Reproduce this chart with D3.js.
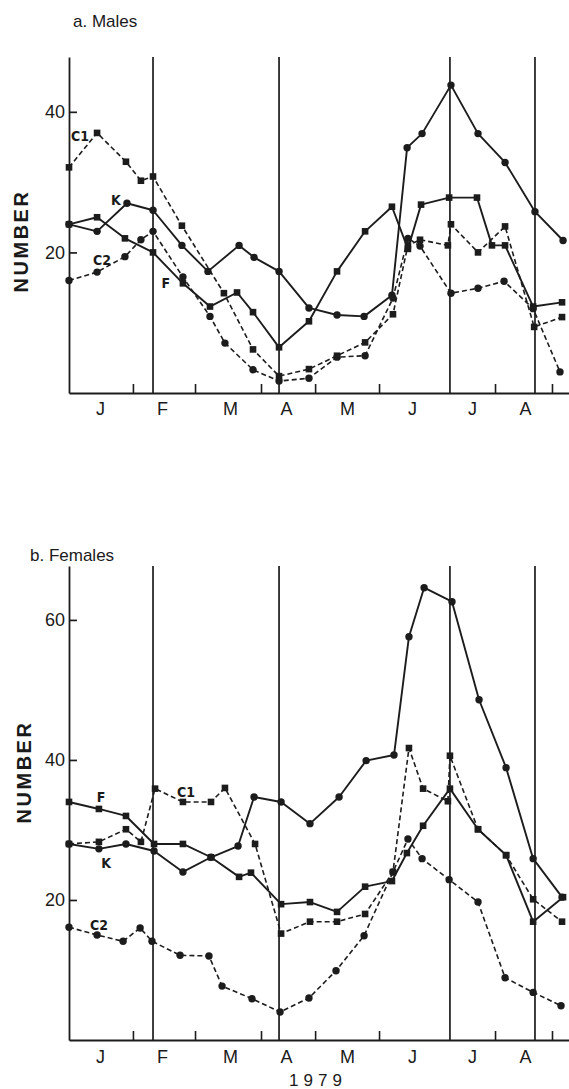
<!DOCTYPE html>
<html>
<head>
<meta charset="utf-8">
<script src="https://cdn.jsdelivr.net/npm/d3@7"></script>
<style>
body { margin: 0; background: #fff; }
svg text { font-family: "Liberation Sans", Arial, sans-serif; fill: #1a1a1a; }
</style>
</head>
<body>
<script>

// a. Males
var mK_day  = [0,13.7,28.3,41,55.1,67.8,83,90.3,102.5,117.1,130.8,144,157.6,165,172.3,186.4,199.6,212.8,227.4,241.1];
var mK      = [24,23,27,26,21,17.3,21,19.3,17.3,12.1,11.1,10.9,13.9,34.9,36.9,43.8,36.9,32.8,25.8,21.7];
var mF_day  = [0,13.7,27.3,41,55.6,68.8,82,89.8,102.5,117.1,130.8,144.5,157.6,165.4,171.8,185.5,199.1,206.4,212.8,226.5,240.6];
var mF      = [24,25,22,20,15.6,12.3,14.3,11.5,6.5,10.2,17.3,23,26.5,20.5,26.8,27.8,27.8,21,21,12.3,12.9];
var mC1_day = [0,13.7,27.8,35.1,41,55.1,75.6,89.8,102.5,117.1,130.8,144.5,158.1,165.4,171.3,184.9,186.4,199.6,212.8,227,240.6];
var mC1     = [32.1,37,32.9,30.2,30.8,23.8,14.2,6.2,2.4,3.4,5.3,7.2,11.2,21,21.8,21,24,20,23.7,9.4,10.8];
var mC2_day = [0,13.7,27.3,35.1,41,55.6,68.8,76.1,89.8,102.5,117.1,130.8,144.5,158.1,165.4,171.3,186.4,199.6,212.3,226.5,239.6];
var mC2     = [16,17.2,19.4,21.8,23,16.5,10.9,7.1,3.3,1.7,2.1,5.1,5.3,13.5,22,20.9,14.2,14.9,15.9,12,3];

// b. Females
var fK_day  = [0,14.6,27.8,41.5,55.6,69.3,82.5,90.3,103.5,117.6,131.8,145,158.6,165.9,173.3,186.9,200.1,213.3,226.5,240.6];
var fK      = [28,27.3,28,27,24,26.1,27.7,34.7,34,30.9,34.7,39.9,40.7,57.6,64.6,62.6,48.6,38.9,25.9,20.4];
var fF_day  = [0,14.6,27.8,41.5,55.6,69.3,83,88.8,103.5,117.6,130.8,144.5,157.6,164.9,172.8,185.9,199.6,213.3,226.5,241.1];
var fF      = [34,33,32,28,28,26.1,23.3,23.9,19.4,19.7,18.3,21.9,22.7,26.7,30.6,35.9,30.1,26.4,16.9,20.4];
var fC1_day = [0,14.6,27.8,35.1,42,55.6,69.3,76.1,90.8,103.5,117.6,130.8,144.5,158.1,165.9,172.8,184.9,185.9,199.6,213.3,226.5,240.6];
var fC1     = [28,28.3,30.1,28.3,35.9,34,34,36,28,15.2,16.9,16.9,18,24,41.7,35.9,34.1,40.6,30.1,26.4,20.1,16.9];
var fC2_day = [0,13.7,26.4,34.7,40.5,54.2,68.3,74.7,89.3,103,117.1,130.3,144,158.1,165.4,172.3,185.5,199.6,212.8,226.5,240.1];
var fC2     = [16.1,15,14.1,16,14.1,12.1,12,7.7,5.9,4,6,9.9,14.9,24,28.7,25.9,22.9,19.7,8.9,6.8,4.9];

// axis stuff
var monthLabels   = ["J","F","M","A","M","J","J","A"];
var monthLabelDay = [15.1,45.4,78.6,105.9,135.7,167.4,196.7,222.5];
var monthTickDay  = [31.2,61.5,93.7,120.1,151.3,207.9,235.7];
var markerDay     = [41,102.5,185.9,227.4];   // the full height vertical lines
var mTicks = [20,40];
var fTicks = [20,40,60];

// series label spots [day, value]
var mLabels = [["C1",5.4,36.6],["K",22.9,27.5],["C2",16.1,18.9],["F",47.3,15.7]];
var fLabels = [["F",15.6,34.7],["K",18.1,25.3],["C1",57.1,35.4],["C2",14.6,16.4]];

var W = 569, H = 1089;
var ink = "#1c1c1c";

var svg = d3.select("body").append("svg")
	.attr("width", W)
	.attr("height", H);

var x = d3.scaleLinear().domain([0, 244]).range([69, 569]);

function zip(days, vals){
	return days.map(function(d,i){ return [d, vals[i]]; });
}

function drawPanel(opt){
	var y = d3.scaleLinear().domain([0, opt.yMax]).range([opt.y0, opt.y1]);
	var g = svg.append("g");

	// vertical lines
	g.selectAll(".vl").data(markerDay).enter().append("line")
		.attr("x1", d => x(d)).attr("x2", d => x(d))
		.attr("y1", y(opt.yMax)).attr("y2", y(0))
		.attr("stroke", ink).attr("stroke-width", 1.7);

	// y axis
	var ya = g.append("g")
		.attr("transform", "translate(" + x(0) + ",0)")
		.call(d3.axisLeft(y).tickValues(opt.ticks).tickSizeInner(-8).tickSizeOuter(0).tickPadding(4));
	ya.select(".domain").attr("stroke", ink).attr("stroke-width", 1.8);
	ya.selectAll(".tick line").attr("stroke", ink).attr("stroke-width", 1.7);
	ya.selectAll(".tick text").style("font-size", "18px").attr("fill", ink);

	// x axis, month ticks
	var xa = g.append("g")
		.attr("transform", "translate(0," + y(0) + ")")
		.call(d3.axisBottom(x).tickValues(monthTickDay).tickSizeInner(-9).tickSizeOuter(0).tickFormat(""));
	xa.select(".domain").attr("stroke", ink).attr("stroke-width", 2);
	xa.selectAll(".tick line").attr("stroke", ink).attr("stroke-width", 1.6);

	var xl = g.append("g")
		.attr("transform", "translate(0," + y(0) + ")")
		.call(d3.axisBottom(x).tickValues(monthLabelDay).tickSize(0).tickPadding(opt.labPad)
			.tickFormat((d,i) => monthLabels[i]));
	xl.select(".domain").remove();
	xl.selectAll(".tick text").style("font-size", "18px").attr("fill", ink);

	var line = d3.line().x(d => x(d[0])).y(d => y(d[1]));

	opt.series.forEach(function(s){
		g.append("path")
			.datum(s.pts)
			.attr("d", line)
			.attr("fill", "none")
			.attr("stroke", ink)
			.attr("stroke-width", s.dash ? 1.6 : 1.9)
			.attr("stroke-dasharray", s.dash ? "5,3" : null)
			.attr("stroke-linejoin", "round");
		if (s.shape == "sq"){
			g.selectAll(null).data(s.pts).enter().append("rect")
				.attr("x", d => x(d[0]) - 3.3).attr("y", d => y(d[1]) - 3.3)
				.attr("width", 6.6).attr("height", 6.6)
				.attr("fill", ink);
		} else {
			g.selectAll(null).data(s.pts).enter().append("circle")
				.attr("cx", d => x(d[0])).attr("cy", d => y(d[1]))
				.attr("r", 3.7)
				.attr("fill", ink);
		}
	});

	g.selectAll(".lab").data(opt.labels).enter().append("text")
		.attr("x", d => x(d[1])).attr("y", d => y(d[2]))
		.attr("text-anchor", "middle")
		.attr("dominant-baseline", "central")
		.attr("fill", ink)
		.style("font-size", "14px")
		.style("font-weight", "bold")
		.style("font-family", "'DejaVu Sans Condensed', 'Liberation Sans Narrow', sans-serif")
		.text(d => d[0]);

	g.append("text")
		.attr("transform", "translate(" + opt.nameX + "," + opt.nameY + ")rotate(-90)")
		.attr("text-anchor", "middle")
		.attr("dominant-baseline", "central")
		.attr("fill", ink)
		.style("font-size", "20px")
		.style("font-weight", "bold")
		.style("letter-spacing", "2.5px")
		.text("NUMBER");

	g.append("text")
		.attr("x", opt.titleX).attr("y", opt.titleY)
		.attr("fill", ink)
		.style("font-size", "17px")
		.text(opt.title);

	return y;
}

drawPanel({
	yMax: 47.8, y0: 393, y1: 57, ticks: mTicks, labPad: 9,
	series: [
		{pts: zip(mK_day, mK), dash: false, shape: "ci"},
		{pts: zip(mF_day, mF), dash: false, shape: "sq"},
		{pts: zip(mC1_day, mC1), dash: true, shape: "sq"},
		{pts: zip(mC2_day, mC2), dash: true, shape: "ci"}
	],
	labels: mLabels,
	nameX: 21, nameY: 241,
	title: "a. Males", titleX: 73, titleY: 27
});

drawPanel({
	yMax: 67.7, y0: 1040, y1: 566, ticks: fTicks, labPad: 10,
	series: [
		{pts: zip(fK_day, fK), dash: false, shape: "ci"},
		{pts: zip(fF_day, fF), dash: false, shape: "sq"},
		{pts: zip(fC1_day, fC1), dash: true, shape: "sq"},
		{pts: zip(fC2_day, fC2), dash: true, shape: "ci"}
	],
	labels: fLabels,
	nameX: 24, nameY: 772,
	title: "b. Females", titleX: 30, titleY: 561
});

svg.append("text")
	.attr("x", 318).attr("y", 1086)
	.attr("text-anchor", "middle")
	.attr("fill", ink)
	.style("font-size", "17px")
	.style("letter-spacing", "5px")
	.text("1979");
</script>
</body>
</html>
